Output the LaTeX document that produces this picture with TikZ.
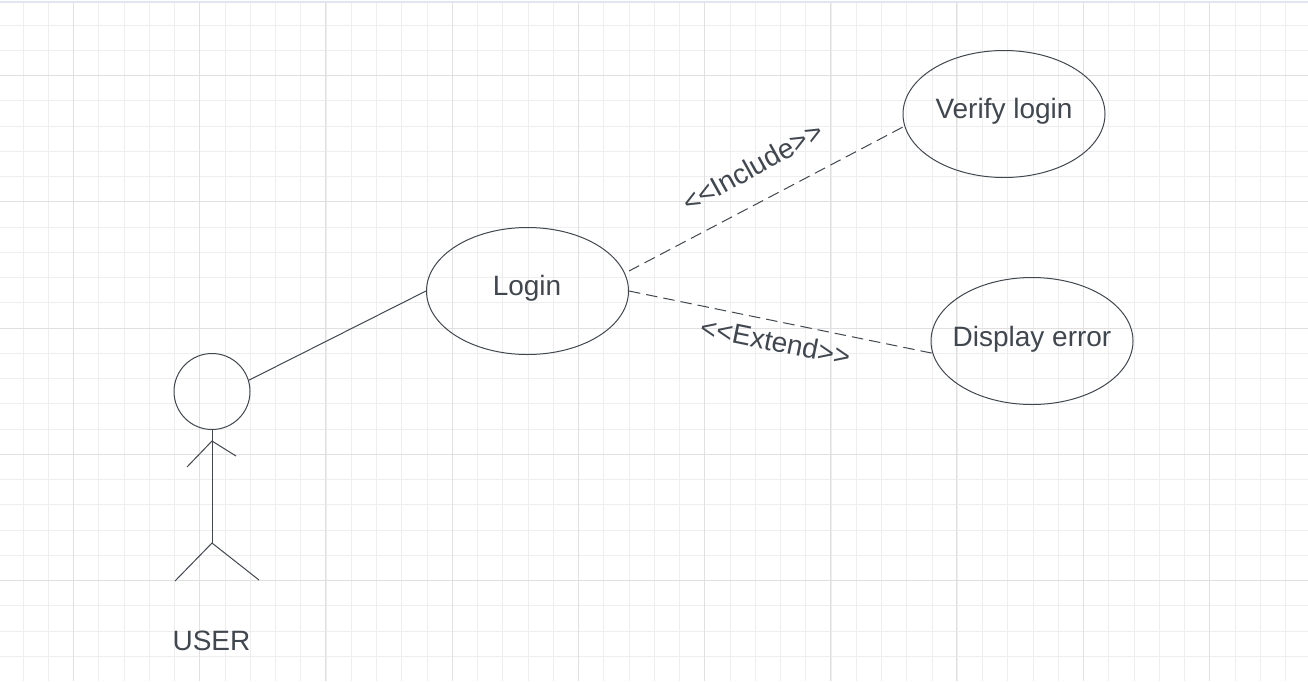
\documentclass[tikz,border=0pt]{standalone}
\usepackage{fontspec}
\newfontfamily\labelfont{Liberation Sans}
\usetikzlibrary{shapes.geometric, positioning, calc}
\definecolor{inkgray}{HTML}{41474F}
\definecolor{gridminor}{HTML}{EEEEEE}
\definecolor{gridmajor}{HTML}{E0E0E0}
\definecolor{topband}{HTML}{E2E5EF}
\tikzset{
    usecase/.style={ellipse, draw=inkgray, line width=1pt, minimum width=202pt, minimum height=127pt, inner sep=0pt},
    usetext/.style={text=inkgray, inner sep=0pt, font=\labelfont\fontsize{28}{30}\selectfont},
    link/.style={draw=inkgray, line width=1pt},
    dashlink/.style={link, dash pattern=on 11.5pt off 6pt},
}
\begin{document}
\begin{tikzpicture}[x=1pt,y=-1pt]
\useasboundingbox (0,0) rectangle (1308,681);
\fill[white] (0,0) rectangle (1308,681);
% Paper grid
\foreach \i in {-2,...,49} {
    \pgfmathsetmacro{\gx}{floor(73.5+25.25*\i)+0.5}
    \draw[gridminor, line width=1pt] (\gx,2) -- (\gx,681);
}
\foreach \i in {-2,...,23} {
    \pgfmathsetmacro{\gy}{floor(75.5+25.25*\i)+0.5}
    \draw[gridminor, line width=1pt] (0,\gy) -- (1308,\gy);
}
\foreach \i in {0,...,9} {
    \pgfmathsetmacro{\gx}{floor(73.5+126.2*\i)+0.5}
    \draw[gridmajor, line width=1pt] (\gx,2) -- (\gx,681);
}
\foreach \i in {0,...,4} {
    \pgfmathsetmacro{\gy}{floor(75.5+126.25*\i)+0.5}
    \draw[gridmajor, line width=1pt] (0,\gy) -- (1308,\gy);
}
\draw[topband, line width=1.5pt] (0,2) -- (1308,2);
% Use cases
\node[usecase] (login) at (527.5,291) {};
\node[usecase] (verify) at (1004,114) {};
\node[usecase] (display) at (1032,341) {};
\node[usetext] (logintext) at (527,288) {Login};
\node[usetext] (verifytext) at (1004,111) {Verify login};
\node[usetext] (displaytext) at (1032,339) {Display error};
% Actor
\node[circle, draw=inkgray, line width=1pt, minimum size=76pt, inner sep=0pt] (head) at (212,391.5) {};
\coordinate (neck) at (212,441);
\coordinate (hip) at (212,543);
\coordinate (handl) at (187,467);
\coordinate (handr) at (236,456);
\coordinate (footl) at (175,581);
\coordinate (footr) at (259,580);
\draw[link] (head.south) -- (hip);
\draw[link] (handl) -- (neck) -- (handr);
\draw[link] (footl) -- (hip) -- (footr);
\node[usetext] (user) at (211.5,641) {USER};
% Connectors
\draw[link] (head.17) -- (login.west);
\draw[dashlink] ([yshift=20pt]login.east) -- (verify.187);
\draw[dashlink] (login.east) -- (display.187);
\node[usetext, rotate=29] (include) at (752.5,167) {<<Include>>};
\node[usetext, rotate=-11.5] (extend) at (775.5,341.5) {<<Extend>>};
\end{tikzpicture}
\end{document}
